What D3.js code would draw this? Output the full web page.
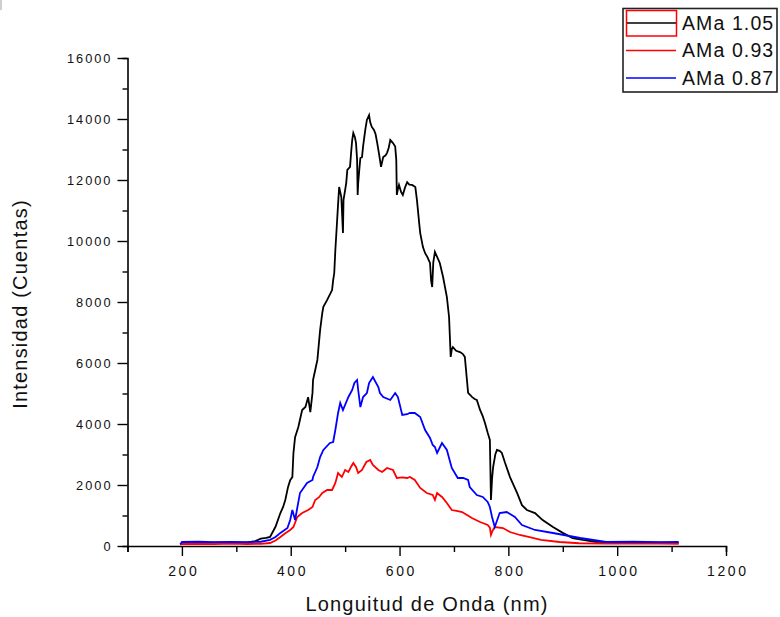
<!DOCTYPE html>
<html>
<head>
<meta charset="utf-8">
<script src="https://cdn.jsdelivr.net/npm/d3@7"></script>
<style>
  html, body { margin: 0; padding: 0; background: #fff; }
  svg { display: block; }
  text { font-family: "Liberation Sans", Arial, sans-serif; fill: #111; }
</style>
</head>
<body>
<svg id="chart" width="780" height="617"></svg>
<script>
// Emission spectra: wavelength (nm) and intensity (counts) for each sample
const seriesNames = ["AMa 1.05", "AMa 0.93", "AMa 0.87"];
const seriesColors = ["#000000", "#ff0000", "#0000ff"];

const wlAMa105 = [197,210,240,270,300,320,335,345,355,362,372,381,386,390,395,399,403,405,408,414,421,427,432,436,440,441,445,449,454,458,460,467,476,478,480,482,485,487,489,491,493,496,497,502,504,509,511,513,515,518,520,522,523,524,526,528,531,533,537,540,544,546,549,553,556,559,562,566,570,574,577,580,583,588,592,594,595,597,599,603,606,610,614,618,623,629,632,636,638,643,647,651,656,658,660,662,665,669,674,680,687,691,694,696,698,704,711,716,720,726,730,733,738,742,748,753,757,762,766,768,770,772,776,779,784,788,794,803,816,825,834,849,863,882,900,918,937,960,1000,1050,1100,1113];
const valAMa105 = [60,110,105,115,110,120,160,240,270,300,630,1080,1280,1510,1930,2160,2260,3050,3570,3900,4460,4560,4880,4390,5020,5440,5770,6100,7080,7640,7840,8070,8390,8720,8950,9700,10590,11200,11770,11600,11440,10260,11340,11900,12330,12430,12900,13310,13540,13400,13210,12660,11510,11900,12330,12720,12750,13100,13640,13970,14130,13900,13740,13640,13500,13210,12890,12430,12750,12800,12890,13050,13310,13210,13100,12660,11510,11700,11840,11600,11510,11750,11930,11850,11840,11770,11340,10600,10260,9800,9600,9480,9280,8700,8490,9300,9640,9480,9280,8820,8160,7510,6200,6450,6520,6400,6360,6300,6200,5020,4950,4890,4820,4790,4460,4250,4030,3710,3480,1510,2200,2590,3000,3150,3120,3050,2720,2260,1740,1340,1180,1080,850,620,430,260,200,140,120,110,110,100];

const wlAMa093 = [197,200,230,260,290,320,345,362,372,381,390,399,405,412,421,432,440,445,452,458,467,476,482,487,494,500,506,511,515,520,524,531,539,546,551,561,568,577,588,595,605,614,619,628,638,650,661,665,669,678,687,696,705,715,724,733,748,762,766,768,771,775,790,803,821,839,860,894,930,980,1030,1080,1113];
const valAMa093 = [40,66,70,60,75,65,70,98,180,295,420,525,623,951,1082,1180,1279,1508,1600,1738,1836,1836,2066,2393,2262,2492,2426,2600,2721,2590,2393,2492,2754,2820,2656,2492,2426,2557,2492,2230,2250,2230,2262,2164,1902,1738,1672,1508,1738,1607,1410,1180,1150,1115,1016,918,787,689,600,361,500,623,590,459,361,295,200,131,90,80,75,80,70];

const wlAMa087 = [197,200,230,260,290,320,345,362,372,381,394,399,403,408,417,430,440,441,449,454,460,472,478,482,487,491,496,506,513,517,522,524,528,533,540,544,551,561,564,570,583,592,597,605,614,619,628,638,647,656,661,665,669,678,687,693,696,707,717,726,729,742,753,762,766,770,775,784,797,812,825,849,882,932,980,1030,1080,1113];
const valAMa087 = [60,131,140,125,135,130,140,200,295,430,590,852,1180,852,1738,2066,2164,2262,2590,2918,3148,3377,3410,3803,4361,4689,4459,4885,5115,5344,5443,5115,4557,4885,5016,5344,5541,5213,5016,4885,4787,5016,4885,4295,4320,4361,4361,4230,3803,3541,3311,3246,3049,3377,3148,2754,2557,2230,2230,2164,1934,1672,1607,1443,1279,951,623,1082,1115,951,689,525,426,262,131,140,130,135,130];

const series = [
  { name: seriesNames[0], color: seriesColors[0], wl: wlAMa105, val: valAMa105 },
  { name: seriesNames[1], color: seriesColors[1], wl: wlAMa093, val: valAMa093 },
  { name: seriesNames[2], color: seriesColors[2], wl: wlAMa087, val: valAMa087 }
];

const xTickValues = [100,200,300,400,500,600,700,800,900,1000,1100,1200];
const xTickLabels = [200,400,600,800,1000,1200];
const yTickValues = d3.range(0, 16001, 1000);
const yTickLabels = [0,2000,4000,6000,8000,10000,12000,14000,16000];

const svg = d3.select("#chart");

// plot area
const x = d3.scaleLinear().domain([100, 1200]).range([127.5, 726]);
const y = d3.scaleLinear().domain([0, 16000]).range([546, 58]);

// faint marker in the corner
svg.append("rect").attr("x", 0).attr("y", 0).attr("width", 2).attr("height", 10).attr("fill", "#cfcfcf");

// x axis
const xAxis = d3.axisBottom(x)
  .tickValues(xTickValues)
  .tickSize(6)
  .tickFormat(d => xTickLabels.includes(d) ? d : "");
const gx = svg.append("g").attr("transform", `translate(0,${y(0)})`).call(xAxis);
gx.select(".domain").attr("stroke", "#000").attr("stroke-width", 1.6);
gx.selectAll(".tick line")
  .attr("stroke", "#000").attr("stroke-width", 1.4)
  .attr("y2", d => xTickLabels.includes(d) ? 10 : 6);
gx.selectAll(".tick text")
  .attr("y", 20)
  .style("font-size", "14px")
  .style("letter-spacing", "2.6px")
  .attr("dx", "1.3px")
  .attr("fill", "#111");

// y axis
const yAxis = d3.axisLeft(y)
  .tickValues(yTickValues)
  .tickSize(5)
  .tickFormat(d => yTickLabels.includes(d) ? d : "");
const gy = svg.append("g").attr("transform", `translate(${x(100)},0)`).call(yAxis);
gy.select(".domain").attr("stroke", "#000").attr("stroke-width", 1.6);
gy.selectAll(".tick line")
  .attr("stroke", "#000").attr("stroke-width", 1.4)
  .attr("x2", d => yTickLabels.includes(d) ? -10 : -5);
gy.selectAll(".tick text")
  .attr("x", -15)
  .style("font-size", "12.8px")
  .style("letter-spacing", "2px")
  .attr("fill", "#111");

// axis titles
svg.append("text")
  .attr("x", 427).attr("y", 611)
  .attr("text-anchor", "middle")
  .style("font-size", "20px")
  .style("letter-spacing", "1.2px")
  .text("Longuitud de Onda (nm)");

svg.append("text")
  .attr("transform", "translate(27,304) rotate(-90)")
  .attr("text-anchor", "middle")
  .style("font-size", "20px")
  .style("letter-spacing", "1.2px")
  .text("Intensidad (Cuentas)");

// spectra
const line = d3.line()
  .x(d => x(d[0]))
  .y(d => y(d[1]));

series.forEach(s => {
  const pts = s.wl.map((w, i) => [w, s.val[i]]);
  svg.append("path")
    .datum(pts)
    .attr("fill", "none")
    .attr("stroke", s.color)
    .attr("stroke-width", 1.8)
    .attr("stroke-linejoin", "miter")
    .attr("d", line);
});

// legend
const lg = svg.append("g");
lg.append("rect")
  .attr("x", 623).attr("y", 8.5).attr("width", 154).attr("height", 83.5)
  .attr("fill", "#fff").attr("stroke", "#222").attr("stroke-width", 1.6);

const rowY = [23, 50.5, 78];
series.forEach((s, i) => {
  lg.append("line")
    .attr("x1", 626).attr("x2", 676)
    .attr("y1", rowY[i]).attr("y2", rowY[i])
    .attr("stroke", s.color).attr("stroke-width", 1.6);
  lg.append("text")
    .attr("x", 682).attr("y", rowY[i] + 6.5)
    .style("font-size", "19.5px")
    .style("letter-spacing", "1.1px")
    .text(s.name);
});
// selection frame around the first legend sample
lg.append("rect")
  .attr("x", 626.5).attr("y", 10.5).attr("width", 50).attr("height", 25.5)
  .attr("fill", "none").attr("stroke", "#ff0000").attr("stroke-width", 1.5);
</script>
</body>
</html>
